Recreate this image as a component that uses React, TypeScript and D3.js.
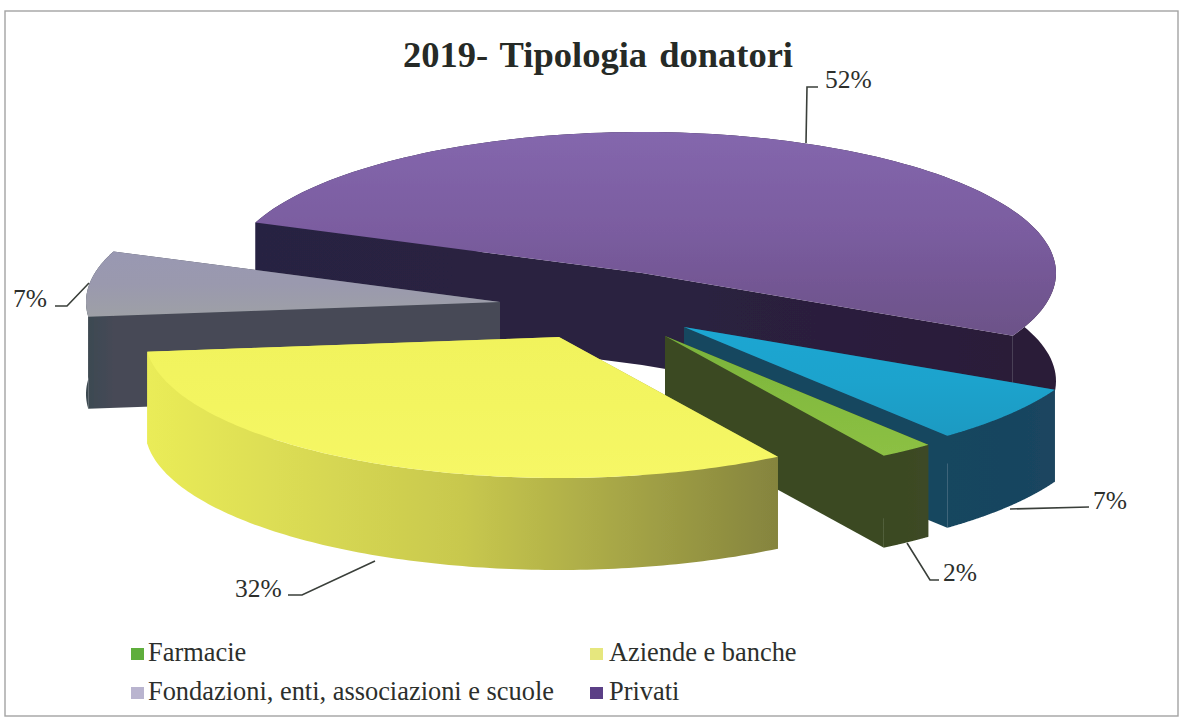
import React from "react";
import * as d3 from "d3";

const title = "2019- Tipologia donatori";
const sliceNames = ["Privati", "Altro", "Farmacie", "Aziende e banche", "Fondazioni, enti, associazioni e scuole"];
const sliceValues = [51.5, 6.7, 2.1, 32.2, 7.5];
const sliceLabels = ["52%", "7%", "2%", "32%", "7%"];
const legendNames = ["Farmacie", "Aziende e banche", "Fondazioni, enti, associazioni e scuole", "Privati"];

// styling / layout
const topStops = [
  ["#8467ad", "#7a5c9f", "#6c5288"],
  ["#1ea6d2", "#1ea3cd", "#1b9ac2"],
  ["#79b23c", "#84bb3f", "#8cc044"],
  ["#f1f35c", "#f3f561", "#f6f766"],
  ["#9998b2", "#9a99ae", "#9ea0a6"],
];
const wallStops = [
  ["#282342", "#2a2140", "#2c1c38"],
  ["#18465f", "#17455f", "#1b4560"],
  ["#3a4a22", "#3b4923", "#3d4a26"],
  ["#eaec58", "#c8c84e", "#85843e"],
  ["#3b4850", "#414a54", "#464a56"],
];
const legendFill = ["#5fae3c", "#e6e77e", "#b9b4cf", "#5b3f86"];
const centers: [number, number][] = [[642, 273], [684, 327], [665, 336], [559, 337], [500, 302]];
const drawOrder = [0, 4, 1, 2, 3];
const RX = 414, RY = 141, DEPTH = 92;
const arcDepths = [108, 92, 92, 92, 92];
const startDeg = -69;
const labelPos: [number, number][] = [[825, 88], [1093, 509], [943, 581], [235, 597], [13, 307]];
const leaders: [number, number][][] = [
  [[806, 143], [807, 87], [818, 87]],
  [[1010, 509], [1089, 507]],
  [[907, 543], [930, 580], [939, 580]],
  [[375, 561], [302, 595], [288, 595]],
  [[89, 283], [67, 306], [55, 306]],
];
const legendPos: [number, number][] = [[131, 661], [590, 661], [131, 700], [590, 700]];
const FONT = "'Liberation Serif','Times New Roman',serif";

const pie = d3.pie<number>().sort(null)
  .startAngle((startDeg * Math.PI) / 180)
  .endAngle(((startDeg + 360) * Math.PI) / 180);
const arcs = pie(sliceValues);
const line = d3.line<[number, number]>().curve(d3.curveLinear);

function slicePoints(i: number) {
  const [cx, cy] = centers[i];
  const sx = d3.scaleLinear().domain([-1, 1]).range([cx - RX, cx + RX]);
  const sy = d3.scaleLinear().domain([-1, 1]).range([cy - RY, cy + RY]);
  const a = arcs[i];
  const angles = d3.range(0, 121).map((k) => a.startAngle + ((a.endAngle - a.startAngle) * k) / 120);
  const rim: [number, number][] = angles.map((t) => [sx(Math.sin(t)), sy(-Math.cos(t))]);
  const apex: [number, number] = [cx, cy];
  return { rim, apex };
}
const down = (p: [number, number], d = DEPTH): [number, number] => [p[0], p[1] + d];

export default function App() {
  return (
    <svg width={1181} height={719} style={{ position: "absolute", left: 0, top: 0, background: "#fff", display: "block" }} fontFamily={FONT}>
      <defs>
        <filter id="soft" x="-5%" y="-5%" width="110%" height="110%"><feGaussianBlur stdDeviation="0.6" /></filter>
        {sliceValues.map((_, i) => {
          const { rim } = slicePoints(i);
          const xs = d3.extent(rim, (p) => p[0]) as [number, number];
          return (
            <React.Fragment key={i}>
              <linearGradient id={`wall${i}`} gradientUnits="userSpaceOnUse" x1={xs[0]} x2={xs[1]} y1={0} y2={0}>
                {wallStops[i].map((c, k) => <stop key={k} offset={k / 2} stopColor={c} />)}
              </linearGradient>
              <linearGradient id={`top${i}`} x1={0} x2={0} y1={0} y2={1}>
                {topStops[i].map((c, k) => <stop key={k} offset={k / 2} stopColor={c} />)}
              </linearGradient>
            </React.Fragment>
          );
        })}
      </defs>
      <rect x={5} y={11} width={1173} height={705} fill="none" stroke="#a3a3a3" strokeWidth={1.4} />
      <text x={598} y={67} textAnchor="middle" fontSize={36.5} fontWeight="bold" fill="#262a26" style={{ wordSpacing: "3px" }}>{title}</text>
      <g filter="url(#soft)">
        {drawOrder.map((i) => {
          const { rim, apex } = slicePoints(i);
          const first = rim[0], last = rim[rim.length - 1];
          const wallA = [apex, first, down(first), down(apex)] as [number, number][];
          const wallB = [apex, last, down(last), down(apex)] as [number, number][];
          const wallArc = [...rim, ...rim.slice().reverse().map((p) => down(p, arcDepths[i]))] as [number, number][];
          return (
            <g key={sliceNames[i]}>
              <path d={line(wallA)! + "Z"} fill={`url(#wall${i})`} />
              <path d={line(wallB)! + "Z"} fill={`url(#wall${i})`} />
              <path d={line(wallArc)! + "Z"} fill={`url(#wall${i})`} />
              <path d={line([apex, ...rim])! + "Z"} fill={`url(#top${i})`} />
            </g>
          );
        })}
      </g>
      {leaders.map((pts, i) => (
        <path key={i} d={line(pts)!} fill="none" stroke="#3a3f3a" strokeWidth={1.6} />
      ))}
      {sliceLabels.map((t, i) => (
        <text key={i} x={labelPos[i][0]} y={labelPos[i][1]} fontSize={25.5} fill="#2c2f2c">{t}</text>
      ))}
      {legendNames.map((t, i) => (
        <g key={t}>
          <rect x={legendPos[i][0]} y={legendPos[i][1] - 13} width={13} height={12} fill={legendFill[i]} />
          <text x={legendPos[i][0] + 17 + (i % 2 ? 2 : 0)} y={legendPos[i][1]} fontSize={26.4} fill="#2c2f2c">{t}</text>
        </g>
      ))}
    </svg>
  );
}
